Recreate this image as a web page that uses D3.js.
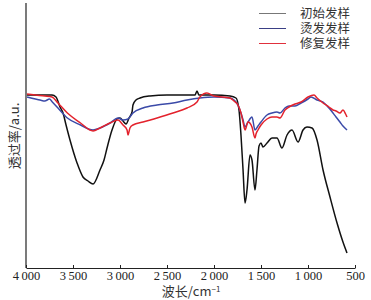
<!DOCTYPE html>
<html>
<head>
<meta charset="utf-8">
<script src="https://cdn.jsdelivr.net/npm/d3@7"></script>
<style>
  body { margin: 0; background: #fff; }
  svg { display: block; }
</style>
</head>
<body>
<svg id="chart" width="371" height="300"></svg>
<script>
// wavenumber (cm-1) and transmittance (a.u.)
const seriesNames = ['初始发样', '烫发发样', '修复发样'];
const seriesColors = ['#111111', '#3b4aa8', '#e3222c'];
const legendColors = ['#777777', '#3a3f85', '#e0303c'];
const xTicks = [4000, 3500, 3000, 2500, 2000, 1500, 1000, 500];

const blackWave = [3989, 3723, 3681, 3638, 3606, 3574, 3532, 3457, 3394, 3340, 3287, 3213, 3170, 3138, 3085, 3032, 3000, 2968, 2936, 2904, 2872, 2862, 2830, 2787, 2681, 2500, 2330, 2202, 2181, 2160, 2000, 1830, 1766, 1734, 1713, 1691, 1670, 1649, 1617, 1596, 1564, 1543, 1521, 1500, 1479, 1436, 1383, 1330, 1277, 1223, 1170, 1106, 1053, 1011, 957, 904, 840, 766, 691, 628, 585];
const blackVal  = [173, 173, 171, 161, 155, 143, 128, 105, 91, 87, 84, 98, 108, 120, 138, 149, 150, 147, 144, 150, 156, 163, 168, 170, 172, 173, 173, 173, 177, 173, 173, 172, 170, 158, 133, 98, 65, 78, 113, 108, 78, 98, 122, 125, 121, 125, 130, 130, 120, 133, 138, 126, 138, 141, 140, 128, 98, 71, 45, 26, 15];

const blueWave = [3989, 3900, 3850, 3800, 3750, 3720, 3660, 3560, 3420, 3287, 3213, 3106, 3021, 2968, 2915, 2862, 2755, 2606, 2436, 2287, 2150, 2000, 1830, 1787, 1745, 1713, 1691, 1670, 1638, 1596, 1564, 1532, 1500, 1436, 1383, 1330, 1298, 1245, 1202, 1138, 1074, 1000, 968, 904, 840, 777, 734, 702, 660, 628, 585];
const blueVal  = [171, 169, 168, 167, 169, 166, 160, 150, 143, 138, 140, 145, 150, 148, 149, 155, 160, 163, 165, 168, 170, 171, 170, 168, 163, 155, 148, 141, 146, 151, 138, 142, 146, 153, 155, 156, 155, 160, 162, 162, 165, 169, 171, 168, 166, 160, 155, 151, 146, 142, 138];

const redWave = [3989, 3900, 3800, 3723, 3660, 3560, 3420, 3287, 3213, 3106, 3021, 2968, 2925, 2915, 2894, 2862, 2755, 2606, 2436, 2287, 2181, 2150, 2075, 2000, 1830, 1787, 1745, 1713, 1691, 1670, 1638, 1596, 1564, 1553, 1532, 1500, 1436, 1383, 1330, 1298, 1245, 1202, 1138, 1074, 1000, 936, 904, 840, 777, 734, 702, 660, 628, 600, 585];
const redVal  = [174, 173, 172, 171, 165, 155, 145, 137, 140, 145, 148, 143, 138, 133, 140, 143, 146, 150, 155, 160, 166, 171, 175, 172, 170, 167, 163, 155, 146, 138, 146, 141, 130, 134, 138, 143, 149, 151, 151, 150, 158, 161, 164, 166, 171, 173, 170, 165, 161, 158, 157, 155, 158, 154, 151];

const series = [
  {wave: blackWave, val: blackVal},
  {wave: blueWave, val: blueVal},
  {wave: redWave, val: redVal}
];

const svg = d3.select('#chart');
const margin = {left: 26, right: 16, top: 3, bottom: 32};
const width = +svg.attr('width');
const height = +svg.attr('height');

const x = d3.scaleLinear().domain([4000, 500]).range([margin.left, 355]);
const y = d3.scaleLinear().domain([0, 265]).range([height - margin.bottom, margin.top]);

// axes
const xAxis = d3.axisBottom(x)
  .tickValues(xTicks)
  .tickSizeInner(-3).tickSizeOuter(0)
  .tickFormat(d => d3.format(',')(d).replace(',', '\u2009'));

const gx = svg.append('g')
  .attr('transform', `translate(0,${y(0)})`)
  .call(xAxis);
gx.select('.domain').attr('stroke', '#222').attr('stroke-width', 1.2);
gx.selectAll('.tick line').attr('stroke', '#222');
gx.selectAll('.tick text')
  .attr('y', 3)
  .attr('font-family', '"Liberation Serif", serif')
  .attr('font-size', 12.5)
  .attr('fill', '#222');

svg.append('line')
  .attr('x1', x(4000)).attr('x2', x(4000))
  .attr('y1', y(265)).attr('y2', y(0))
  .attr('stroke', '#222').attr('stroke-width', 1.2);

// curves
const line = d3.line().curve(d3.curveMonotoneX);
series.forEach((s, i) => {
  const pts = s.wave.map((w, j) => [x(w), y(s.val[j])]);
  svg.append('path')
    .attr('d', line(pts))
    .attr('fill', 'none')
    .attr('stroke', seriesColors[i])
    .attr('stroke-width', 1.5)
    .attr('stroke-linejoin', 'round');
});

// legend
const lg = svg.append('g');
seriesNames.forEach((name, i) => {
  const cy = 13.5 + i * 15;
  lg.append('line')
    .attr('x1', 259).attr('x2', 286)
    .attr('y1', cy).attr('y2', cy)
    .attr('stroke', legendColors[i]).attr('stroke-width', 1);
  lg.append('text')
    .attr('x', 300).attr('y', cy)
    .attr('dy', '0.35em')
    .attr('font-family', '"Noto Sans CJK SC", sans-serif')
    .attr('font-size', 12.5)
    .attr('fill', '#333')
    .text(name);
});

// axis titles
svg.append('text')
  .attr('transform', 'translate(14,136) rotate(-90)')
  .attr('text-anchor', 'middle')
  .attr('dy', '0.35em')
  .attr('font-family', '"Noto Sans CJK SC", sans-serif')
  .attr('font-size', 13)
  .attr('fill', '#333')
  .text('透过率/a.u.');

const xt = svg.append('text')
  .attr('x', 191).attr('y', 291)
  .attr('text-anchor', 'middle')
  .attr('dy', '0.35em')
  .attr('font-family', '"Noto Sans CJK SC", sans-serif')
  .attr('font-size', 13)
  .attr('fill', '#333');
xt.append('tspan').text('波长/cm');
xt.append('tspan').attr('dy', '-0.45em').attr('font-size', 8).text('−1');
</script>
</body>
</html>
